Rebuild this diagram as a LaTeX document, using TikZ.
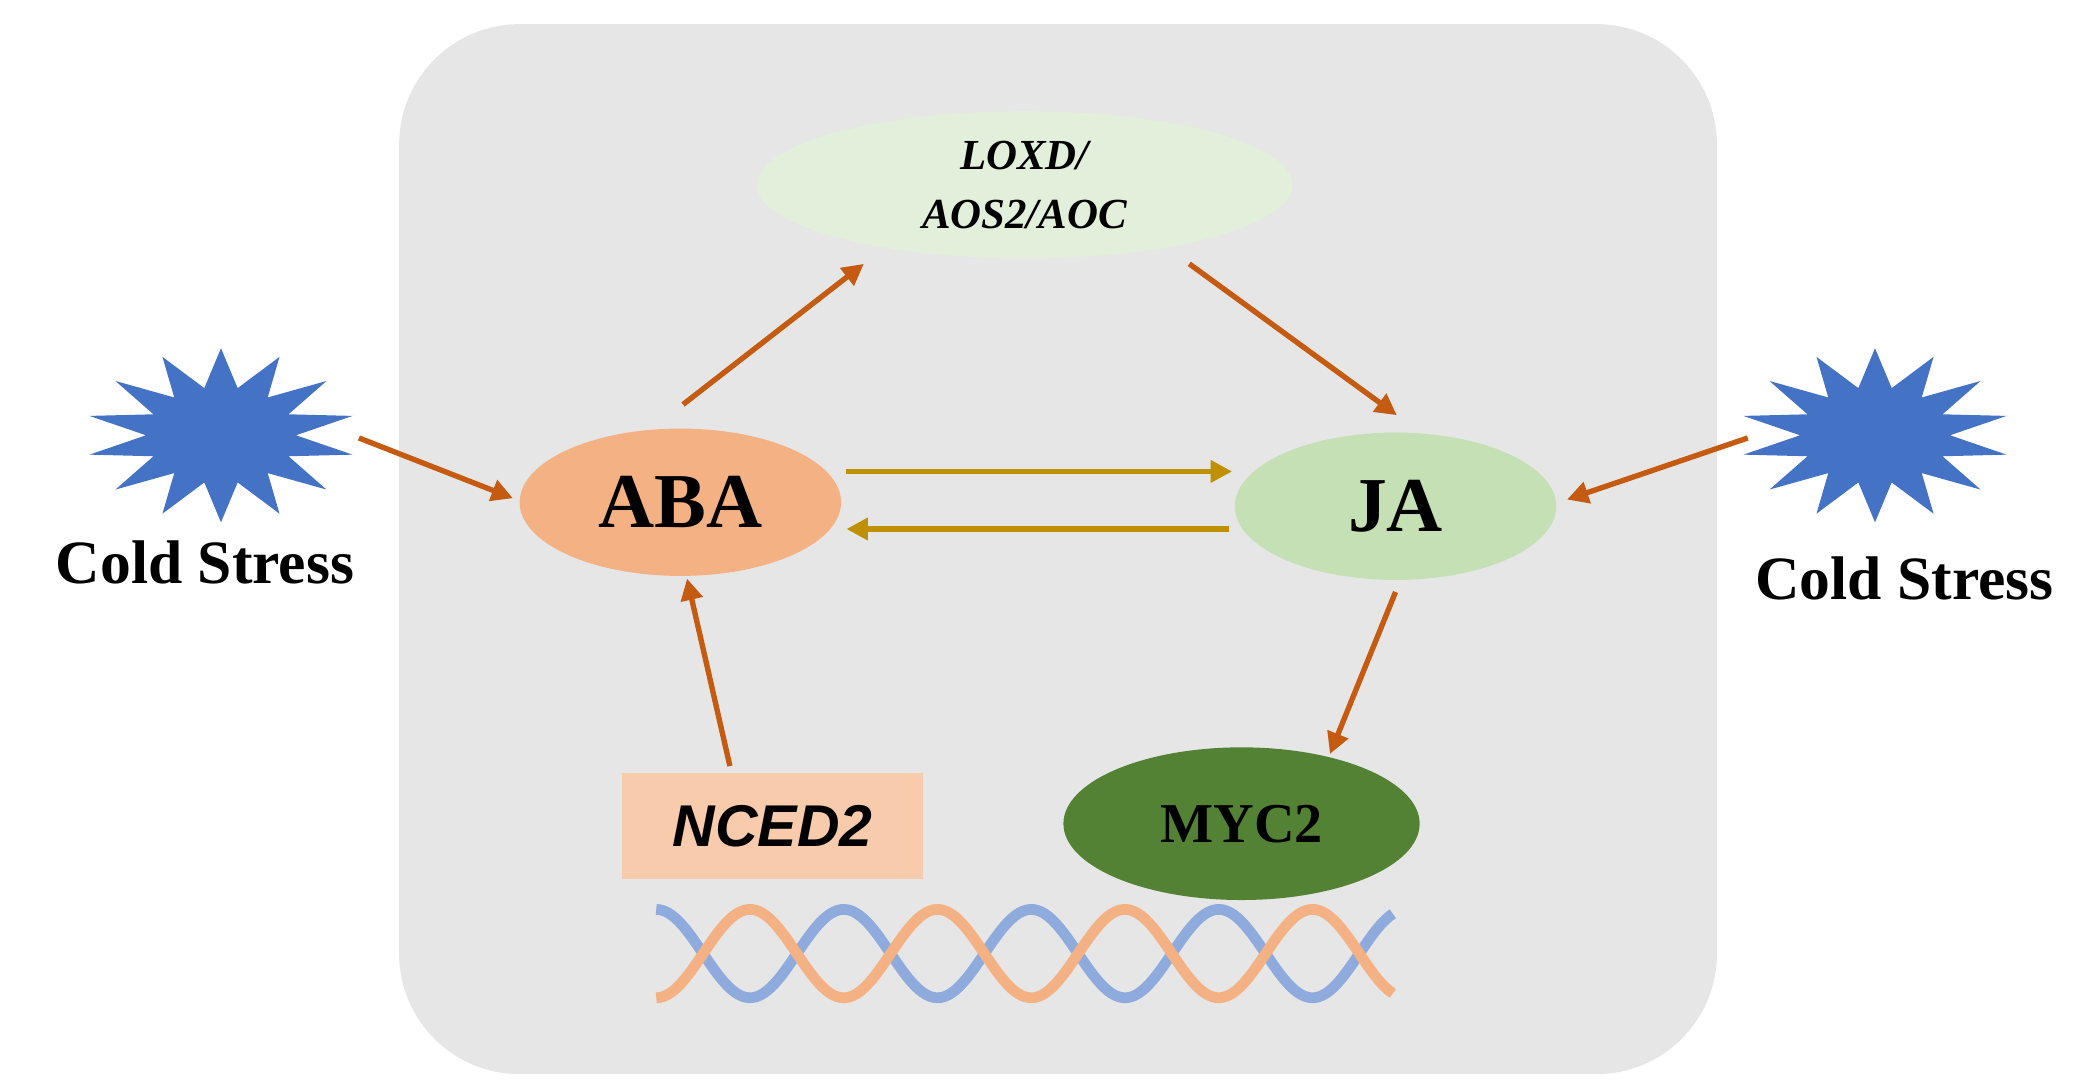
\documentclass[tikz,border=0pt]{standalone}
\usepackage{fontspec}
\setmainfont{Liberation Serif}
\newfontfamily\sansf{Liberation Sans}
\usetikzlibrary{shapes.geometric,arrows.meta}
\definecolor{bgc}{HTML}{E6E6E6}
\definecolor{arr}{HTML}{C55A11}
\definecolor{gold}{HTML}{BF9000}
\definecolor{abac}{HTML}{F4B183}
\definecolor{jac}{HTML}{C5E0B4}
\definecolor{loxc}{HTML}{E2EFDA}
\definecolor{mycc}{HTML}{548235}
\definecolor{ncc}{HTML}{F8CBAD}
\definecolor{starc}{HTML}{4472C4}
\definecolor{dnab}{HTML}{8FAADC}
\tikzset{
 ell/.style={ellipse,inner sep=0pt},
 oarr/.style={draw=arr,line width=4pt,-{Triangle[length=16pt,width=16pt]}},
 garr/.style={draw=gold,line width=4pt,-{Triangle[length=16pt,width=16pt]}},
 cs/.style={font=\fontsize{46}{50}\selectfont\bfseries},
}
\begin{document}
\begin{tikzpicture}[x=1pt,y=-1pt]
\useasboundingbox (0,0) rectangle (1568,815);
\fill[bgc,rounded corners=90pt] (298,18) rectangle (1282,802);
\node[ell,fill=loxc,minimum width=400,minimum height=110,align=center,font=\fontsize{32}{44}\selectfont\bfseries\itshape] (lox) at (765,138) {LOXD/\\AOS2/AOC};
\node[ell,fill=abac,minimum width=240,minimum height=110,font=\fontsize{58}{60}\selectfont\bfseries] (aba) at (508,375) {ABA};
\node[ell,fill=jac,minimum width=240,minimum height=110,font=\fontsize{58}{60}\selectfont\bfseries] (ja) at (1042,378) {JA};
\node[ell,fill=mycc,minimum width=266,minimum height=114,font=\fontsize{42}{44}\selectfont\bfseries] (myc) at (927,615) {MYC2};
\node[fill=ncc,minimum width=225,minimum height=79,font=\sansf\fontsize{44}{46}\selectfont\bfseries\itshape] (nced) at (577,617) {NCED2};
\node[star,star points=14,star point ratio=1.8,fill=starc,minimum size=130,xscale=1.55,inner sep=0pt] (sl) at (165,325) {};
\node[star,star points=14,star point ratio=1.8,fill=starc,minimum size=130,xscale=1.55,inner sep=0pt] (sr) at (1400,325) {};
\node[cs] (tl) at (153,420) {Cold Stress};
\node[cs] (tr) at (1422,432) {Cold Stress};
\coordinate (a1) at (268,327); \coordinate (a2) at (1305,327);
\draw[oarr] (a1) -- (383,372);
\draw[oarr] (a2) -- (1170,373);
\draw[oarr] (510,302) -- (645,197);
\draw[oarr] (888,197) -- (1043,310);
\draw[oarr] (545,572) -- (513,432);
\draw[oarr] (1042,442) -- (993,563);
\draw[garr] (632,352) -- (920,352);
\draw[garr] (918,395) -- (632,395);
\draw[dnab,line width=8pt,domain=0:550,samples=200] plot ({490+\x},{712-33*cos(\x/70*180)});
\draw[abac,line width=8pt,domain=0:550,samples=200] plot ({490+\x},{712+33*cos(\x/70*180)});
\end{tikzpicture}
\end{document}
